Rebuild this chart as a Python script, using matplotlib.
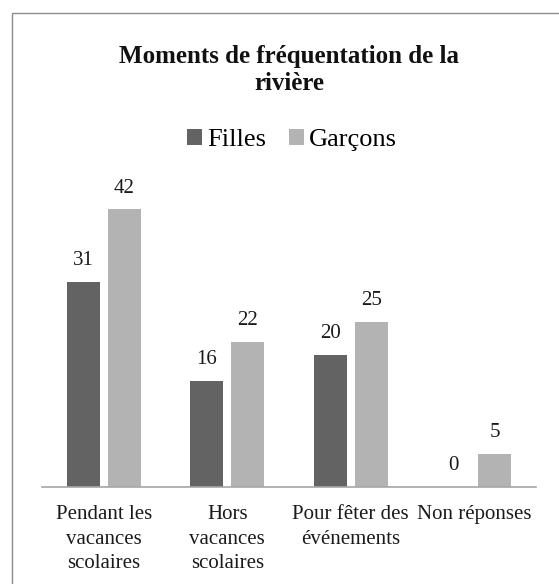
import numpy as np
import matplotlib
matplotlib.use("Agg")
import matplotlib.pyplot as plt
from matplotlib.patches import Rectangle

categories = ["Pendant les\nvacances\nscolaires", "Hors\nvacances\nscolaires",
              "Pour fêter des\névénements", "Non réponses"]
filles = [31, 16, 20, 0]
garcons = [42, 22, 25, 5]
series_names = ["Filles", "Garçons"]

plt.rcParams['font.family'] = ['Liberation Serif', 'DejaVu Serif']

W, H = 559, 584
fig = plt.figure(figsize=(W / 100, H / 100), dpi=100)

# outer chart border (right/bottom run off the image)
fig.patches.append(Rectangle((12 / W, -0.05), 1.1, 1 - 13 / H + 0.05,
                             transform=fig.transFigure, fill=False,
                             edgecolor='#8c8c8c', linewidth=1.0))

ax = fig.add_axes([42 / W, 1 - 487 / H, 494 / W, 45 * 6.61 / H])

x = np.arange(len(categories))
w = 0.267
off = w / 2 + 0.033
b1 = ax.bar(x - off, filles, w, color='#636363', label=series_names[0])
b2 = ax.bar(x + off, garcons, w, color='#b3b3b3', label=series_names[1])

for bars in (b1, b2):
    for r in bars:
        ax.annotate(f"{int(r.get_height())}", (r.get_x() + r.get_width() / 2, r.get_height()),
                    xytext=(0, 8.5), textcoords='offset points', ha='center', va='bottom',
                    fontsize=15, color='#1a1a1a')

ax.set_xlim(-0.5, 3.5)
ax.set_ylim(0, 45)
ax.set_yticks([])
ax.set_xticks(x)
ax.set_xticklabels(categories, fontsize=15, color='#1a1a1a', linespacing=1.39)
ax.tick_params(axis='x', length=0, pad=13)
for s in ['top', 'right', 'left']:
    ax.spines[s].set_visible(False)
ax.spines['bottom'].set_color('#a6a6a6')
ax.spines['bottom'].set_linewidth(1.2)

fig.text(289 / W, 1 - 70 / H, "Moments de fréquentation de la\nrivière", ha='center',
         va='center', fontsize=18, fontweight='bold', linespacing=1.25, color='#111111')

fig.legend(handles=[b1, b2], labels=series_names, loc='center', ncol=2,
           bbox_to_anchor=(292 / W, 1 - 140 / H), frameon=False, fontsize=19,
           handlelength=0.58, handleheight=0.58, handletextpad=0.2, columnspacing=0.85)

fig.savefig("out.png", dpi=100)
